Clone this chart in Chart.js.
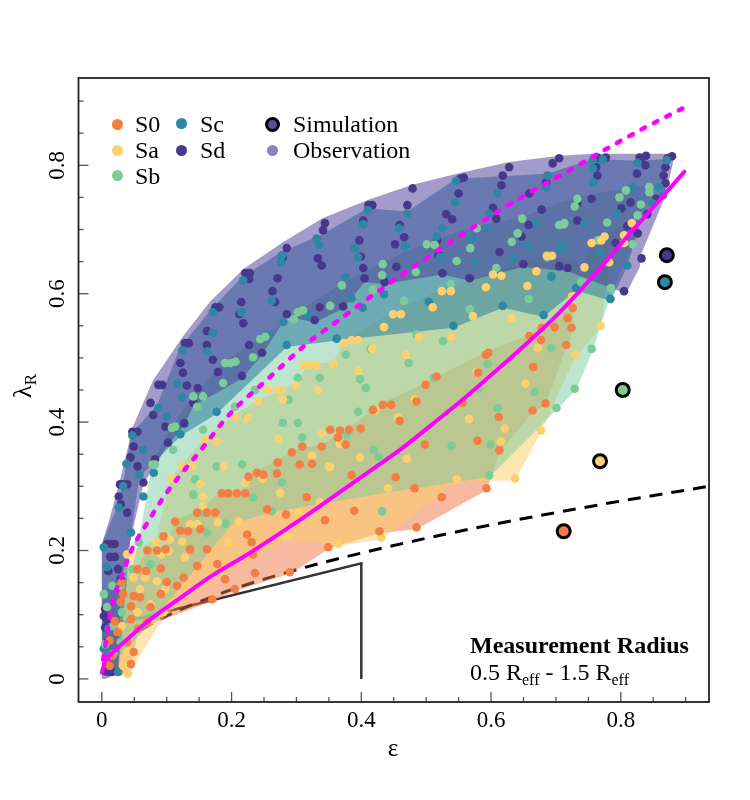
<!DOCTYPE html>
<html><head><meta charset="utf-8">
<script src="https://cdn.jsdelivr.net/npm/chart.js@4.4.1/dist/chart.umd.min.js"></script>
<style>
html,body{margin:0;padding:0;background:#fff;}
#wrap{position:relative;width:750px;height:800px;font-family:"Liberation Serif","Times New Roman",serif;color:#000;overflow:hidden;}
#c{position:absolute;left:0;top:0;}
.t{position:absolute;font-size:24px;line-height:26px;white-space:nowrap;}
.dot{position:absolute;width:11px;height:11px;border-radius:50%;}
.sim{position:absolute;width:9px;height:9px;border-radius:50%;border:3px solid #000;}
sub{font-size:16px;vertical-align:baseline;position:relative;top:5px;}
</style></head>
<body><div id="wrap"><canvas id="c" width="750" height="800"></canvas>
<div class="dot" style="left:111.5px;top:118.5px;background:#F57E45"></div><div class="t" style="left:135px;top:111px">S0</div>
<div class="dot" style="left:111.5px;top:144.5px;background:#FDD170"></div><div class="t" style="left:135px;top:137px">Sa</div>
<div class="dot" style="left:111.5px;top:170px;background:#7CCC98"></div><div class="t" style="left:135px;top:162.5px">Sb</div>
<div class="dot" style="left:175.5px;top:118px;background:#2E87A4"></div><div class="t" style="left:200px;top:111px">Sc</div>
<div class="dot" style="left:175.5px;top:144.5px;background:#46388B"></div><div class="t" style="left:200px;top:137px">Sd</div>
<div class="sim" style="left:265px;top:116.5px;background:#5B4DA0"></div><div class="t" style="left:293px;top:111px">Simulation</div>
<div class="dot" style="left:267px;top:144.5px;background:#8B80C0"></div><div class="t" style="left:293px;top:137px">Observation</div>
<div class="t" style="left:470px;top:632px;font-weight:bold">Measurement Radius</div>
<div class="t" style="left:470px;top:659px">0.5 R<sub>eff</sub> - 1.5 R<sub>eff</sub></div>
<div class="t" style="left:363px;top:735px;width:60px;text-align:center;font-size:25px">ε</div>
<div class="t" style="left:-7px;top:371px;width:60px;height:30px;line-height:30px;text-align:center;font-size:26px;transform:rotate(-90deg)">λ<sub style="font-size:17px;top:5px">R</sub></div>
</div>
<script>
// ---------- data ----------
const xTickValues = [0, 0.2, 0.4, 0.6, 0.8];
const xTickLabels = ['0', '0.2', '0.4', '0.6', '0.8'];
const yTickValues = [0, 0.2, 0.4, 0.6, 0.8];
const yTickLabels = ['0', '0.2', '0.4', '0.6', '0.8'];
const minorTickValues = [0,0.05,0.1,0.15,0.2,0.25,0.3,0.35,0.4,0.45,0.5,0.55,0.6,0.65,0.7,0.75,0.8,0.85,0.9];
const axisMin = -0.036, axisMax = 0.936;

const pointsS0 = [[0.659,0.534],[0.678,0.547],[0.677,0.528],[0.724,0.547],[0.726,0.578],[0.718,0.562],[0.716,0.52],[0.698,0.548],[0.592,0.505],[0.596,0.508],[0.665,0.486],[0.499,0.458],[0.516,0.471],[0.58,0.477],[0.433,0.427],[0.446,0.427],[0.418,0.419],[0.485,0.432],[0.459,0.402],[0.684,0.429],[0.664,0.418],[0.612,0.408],[0.556,0.43],[0.579,0.371],[0.613,0.356],[0.498,0.365],[0.399,0.39],[0.381,0.388],[0.376,0.365],[0.367,0.387],[0.385,0.317],[0.453,0.314],[0.482,0.297],[0.524,0.283],[0.593,0.297],[0.389,0.262],[0.428,0.23],[0.485,0.236],[0.352,0.388],[0.339,0.362],[0.309,0.362],[0.293,0.353],[0.324,0.335],[0.305,0.334],[0.271,0.337],[0.239,0.321],[0.249,0.318],[0.27,0.32],[0.226,0.315],[0.364,0.376],[0.185,0.289],[0.195,0.289],[0.208,0.289],[0.221,0.289],[0.147,0.259],[0.162,0.259],[0.175,0.259],[0.121,0.231],[0.133,0.23],[0.095,0.222],[0.07,0.2],[0.085,0.2],[0.055,0.171],[0.068,0.168],[0.091,0.172],[0.033,0.132],[0.049,0.129],[0.059,0.127],[0.045,0.113],[0.029,0.12],[0.045,0.093],[0.056,0.078],[0.075,0.112],[0.091,0.132],[0.116,0.145],[0.126,0.158],[0.147,0.176],[0.162,0.202],[0.136,0.202],[0.098,0.202],[0.19,0.155],[0.17,0.124],[0.236,0.165],[0.178,0.179],[0.233,0.194],[0.255,0.264],[0.224,0.225],[0.231,0.213],[0.316,0.283],[0.344,0.247],[0.349,0.205],[0.29,0.166],[0.205,0.14],[0.284,0.256],[0.113,0.245],[0.152,0.233],[0.1,0.151],[0.024,0.073],[0.039,0.057],[0.016,0.036],[0.049,0.042],[0.045,0.023],[0.07,0.088],[0.012,0.02],[0.02,0.09],[0.03,0.15],[0.012,0.06]];

const pointsSa = [[0.656,0.612],[0.592,0.61],[0.524,0.604],[0.538,0.604],[0.449,0.568],[0.461,0.568],[0.51,0.579],[0.572,0.565],[0.632,0.562],[0.725,0.596],[0.769,0.55],[0.435,0.548],[0.539,0.533],[0.489,0.533],[0.373,0.523],[0.385,0.528],[0.395,0.528],[0.469,0.505],[0.672,0.516],[0.73,0.505],[0.395,0.48],[0.578,0.478],[0.653,0.46],[0.482,0.435],[0.422,0.418],[0.456,0.407],[0.566,0.405],[0.621,0.39],[0.615,0.37],[0.677,0.387],[0.398,0.345],[0.47,0.343],[0.441,0.297],[0.547,0.311],[0.637,0.312],[0.431,0.22],[0.367,0.366],[0.694,0.659],[0.686,0.659],[0.603,0.63],[0.616,0.628],[0.67,0.635],[0.417,0.514],[0.357,0.49],[0.352,0.33],[0.31,0.489],[0.32,0.489],[0.331,0.489],[0.256,0.45],[0.27,0.45],[0.277,0.45],[0.241,0.432],[0.279,0.435],[0.299,0.457],[0.333,0.45],[0.205,0.408],[0.225,0.407],[0.272,0.374],[0.159,0.373],[0.177,0.37],[0.124,0.331],[0.139,0.331],[0.188,0.331],[0.339,0.382],[0.35,0.331],[0.221,0.306],[0.248,0.312],[0.324,0.348],[0.152,0.304],[0.107,0.312],[0.275,0.29],[0.156,0.284],[0.156,0.269],[0.136,0.241],[0.147,0.241],[0.179,0.244],[0.211,0.245],[0.195,0.214],[0.124,0.214],[0.083,0.213],[0.105,0.217],[0.103,0.199],[0.128,0.189],[0.039,0.194],[0.091,0.194],[0.067,0.158],[0.049,0.158],[0.085,0.152],[0.059,0.14],[0.098,0.14],[0.075,0.116],[0.055,0.104],[0.095,0.104],[0.071,0.088],[0.031,0.082],[0.039,0.042],[0.033,0.02],[0.04,0.008],[0.303,0.259],[0.282,0.222],[0.287,0.222],[0.336,0.275],[0.364,0.21],[0.775,0.689],[0.77,0.683],[0.755,0.679],[0.817,0.71],[0.805,0.691],[0.805,0.679],[0.782,0.649],[0.744,0.641]];

const pointsSb = [[0.466,0.589],[0.567,0.576],[0.658,0.592],[0.739,0.618],[0.485,0.537],[0.526,0.526],[0.693,0.515],[0.755,0.514],[0.414,0.514],[0.376,0.505],[0.473,0.492],[0.595,0.491],[0.398,0.467],[0.407,0.453],[0.512,0.469],[0.729,0.452],[0.667,0.447],[0.581,0.452],[0.61,0.422],[0.701,0.422],[0.395,0.416],[0.378,0.38],[0.419,0.357],[0.427,0.346],[0.539,0.363],[0.599,0.365],[0.597,0.317],[0.432,0.261],[0.37,0.613],[0.432,0.629],[0.433,0.646],[0.418,0.606],[0.501,0.677],[0.513,0.676],[0.484,0.634],[0.547,0.651],[0.568,0.671],[0.608,0.64],[0.578,0.702],[0.632,0.681],[0.641,0.694],[0.648,0.717],[0.705,0.707],[0.713,0.71],[0.687,0.657],[0.538,0.615],[0.352,0.581],[0.302,0.571],[0.31,0.574],[0.296,0.56],[0.244,0.529],[0.252,0.533],[0.233,0.501],[0.198,0.492],[0.19,0.492],[0.206,0.494],[0.187,0.461],[0.156,0.44],[0.141,0.44],[0.147,0.424],[0.113,0.393],[0.108,0.391],[0.078,0.334],[0.082,0.334],[0.11,0.357],[0.205,0.424],[0.224,0.408],[0.236,0.45],[0.288,0.435],[0.302,0.469],[0.336,0.469],[0.279,0.399],[0.302,0.399],[0.216,0.334],[0.177,0.331],[0.156,0.388],[0.144,0.311],[0.309,0.376],[0.278,0.306],[0.127,0.328],[0.141,0.287],[0.233,0.283],[0.156,0.259],[0.19,0.242],[0.162,0.228],[0.057,0.213],[0.075,0.179],[0.047,0.171],[0.003,0.132],[0.016,0.145],[0.029,0.145],[0.008,0.112],[0.018,0.082],[0.005,0.054],[0.018,0.039],[0.029,0.057],[0.262,0.261],[0.082,0.098],[0.052,0.098],[0.031,0.104],[0.798,0.75],[0.808,0.761],[0.844,0.766],[0.844,0.758],[0.831,0.739],[0.779,0.711],[0.826,0.722],[0.818,0.677],[0.765,0.683],[0.729,0.736],[0.733,0.748],[0.712,0.708],[0.785,0.609],[0.741,0.618]];

const pointsSc = [[0.504,0.587],[0.542,0.55],[0.618,0.581],[0.681,0.567],[0.731,0.609],[0.784,0.592],[0.435,0.599],[0.402,0.578],[0.385,0.593],[0.41,0.73],[0.403,0.708],[0.39,0.671],[0.395,0.657],[0.375,0.626],[0.362,0.53],[0.471,0.725],[0.458,0.702],[0.467,0.674],[0.516,0.689],[0.525,0.702],[0.521,0.657],[0.488,0.642],[0.545,0.742],[0.546,0.776],[0.61,0.756],[0.597,0.725],[0.595,0.702],[0.57,0.686],[0.576,0.649],[0.634,0.655],[0.658,0.674],[0.67,0.711],[0.687,0.784],[0.685,0.766],[0.712,0.674],[0.693,0.627],[0.278,0.66],[0.276,0.649],[0.28,0.556],[0.262,0.589],[0.218,0.621],[0.215,0.571],[0.171,0.571],[0.171,0.539],[0.162,0.51],[0.124,0.512],[0.116,0.46],[0.124,0.439],[0.087,0.422],[0.1,0.409],[0.121,0.381],[0.047,0.379],[0.064,0.357],[0.038,0.335],[0.058,0.318],[0.08,0.321],[0.255,0.536],[0.285,0.52],[0.317,0.567],[0.331,0.686],[0.335,0.676],[0.177,0.416],[0.003,0.205],[0.008,0.174],[0.018,0.143],[0.024,0.117],[0.01,0.078],[0.003,0.047],[0.025,0.011],[0.045,0.228],[0.064,0.284],[0.026,0.267],[0.033,0.3],[0.757,0.808],[0.772,0.809],[0.757,0.795],[0.757,0.773],[0.826,0.804],[0.871,0.808],[0.859,0.766],[0.849,0.741],[0.865,0.753],[0.818,0.766],[0.831,0.719],[0.795,0.725],[0.767,0.663],[0.744,0.71],[0.705,0.673],[0.81,0.644]];

const pointsSd = [[0.411,0.738],[0.417,0.738],[0.403,0.714],[0.397,0.683],[0.399,0.658],[0.403,0.64],[0.405,0.624],[0.372,0.58],[0.479,0.764],[0.471,0.738],[0.459,0.707],[0.466,0.688],[0.452,0.677],[0.454,0.642],[0.436,0.618],[0.552,0.779],[0.558,0.781],[0.55,0.756],[0.531,0.724],[0.54,0.716],[0.517,0.683],[0.519,0.66],[0.525,0.632],[0.567,0.624],[0.628,0.797],[0.618,0.784],[0.616,0.769],[0.603,0.734],[0.608,0.717],[0.613,0.665],[0.65,0.646],[0.695,0.803],[0.685,0.773],[0.659,0.756],[0.678,0.731],[0.658,0.707],[0.647,0.689],[0.705,0.643],[0.718,0.64],[0.733,0.741],[0.733,0.714],[0.805,0.604],[0.344,0.71],[0.341,0.699],[0.333,0.655],[0.339,0.644],[0.336,0.579],[0.328,0.559],[0.285,0.671],[0.279,0.657],[0.271,0.624],[0.263,0.604],[0.267,0.587],[0.285,0.568],[0.247,0.508],[0.216,0.472],[0.221,0.632],[0.228,0.632],[0.227,0.623],[0.215,0.587],[0.212,0.568],[0.218,0.554],[0.227,0.52],[0.175,0.579],[0.181,0.579],[0.162,0.542],[0.162,0.52],[0.171,0.497],[0.179,0.478],[0.148,0.453],[0.141,0.43],[0.128,0.523],[0.134,0.523],[0.121,0.492],[0.125,0.477],[0.131,0.457],[0.127,0.398],[0.087,0.458],[0.093,0.458],[0.075,0.43],[0.079,0.411],[0.098,0.393],[0.102,0.368],[0.047,0.385],[0.055,0.385],[0.049,0.362],[0.044,0.345],[0.055,0.331],[0.064,0.306],[0.082,0.342],[0.028,0.303],[0.032,0.303],[0.039,0.303],[0.026,0.284],[0.029,0.272],[0.039,0.259],[0.008,0.21],[0.016,0.21],[0.02,0.21],[0.013,0.19],[0.02,0.19],[0.01,0.168],[0.025,0.171],[0.029,0.155],[0.005,0.109],[0.003,0.098],[0.008,0.093],[0.005,0.08],[0.01,0.06],[0.005,0.012],[0.016,0.011],[0.025,0.011],[0.01,0.011],[0.705,0.811],[0.764,0.812],[0.777,0.812],[0.762,0.797],[0.764,0.784],[0.829,0.812],[0.839,0.815],[0.831,0.807],[0.838,0.8],[0.825,0.787],[0.879,0.814],[0.872,0.811],[0.869,0.797],[0.866,0.784],[0.869,0.772],[0.755,0.748],[0.801,0.733],[0.815,0.742],[0.855,0.748],[0.841,0.724],[0.81,0.705],[0.792,0.679],[0.826,0.694],[0.832,0.655]];

// region outlines of each type (observed spread)
const hullS0 = [[0.008,0.005],[0.01,0.02],[0.012,0.06],[0.02,0.09],[0.029,0.123],[0.03,0.15],[0.055,0.174],[0.07,0.203],[0.098,0.205],[0.113,0.248],[0.147,0.262],[0.185,0.292],[0.221,0.292],[0.226,0.318],[0.27,0.34],[0.293,0.356],[0.339,0.365],[0.364,0.379],[0.433,0.43],[0.499,0.461],[0.596,0.511],[0.659,0.537],[0.726,0.581],[0.727,0.545],[0.716,0.517],[0.684,0.426],[0.664,0.415],[0.613,0.353],[0.593,0.294],[0.485,0.233],[0.428,0.227],[0.352,0.204],[0.293,0.165],[0.205,0.137],[0.17,0.121],[0.075,0.085],[0.056,0.075],[0.045,0.02],[0.03,0.005],[0.008,0.005]];
const hullSa = [[0.005,0.005],[0.0,0.1],[0.039,0.197],[0.083,0.216],[0.107,0.315],[0.124,0.334],[0.159,0.376],[0.205,0.411],[0.241,0.435],[0.299,0.46],[0.32,0.492],[0.357,0.493],[0.373,0.526],[0.449,0.571],[0.524,0.607],[0.603,0.633],[0.694,0.662],[0.744,0.644],[0.755,0.682],[0.775,0.692],[0.817,0.713],[0.805,0.676],[0.782,0.646],[0.769,0.547],[0.73,0.502],[0.677,0.384],[0.637,0.309],[0.547,0.308],[0.431,0.217],[0.364,0.207],[0.287,0.219],[0.2,0.17],[0.098,0.1],[0.04,0.005],[0.005,0.005]];
const hullSb = [[0.0,0.05],[0.0,0.132],[0.016,0.148],[0.047,0.174],[0.057,0.216],[0.078,0.337],[0.108,0.394],[0.141,0.443],[0.19,0.495],[0.244,0.532],[0.296,0.563],[0.31,0.577],[0.37,0.616],[0.433,0.649],[0.501,0.68],[0.578,0.705],[0.648,0.72],[0.733,0.751],[0.808,0.764],[0.844,0.769],[0.847,0.756],[0.828,0.72],[0.82,0.675],[0.787,0.607],[0.757,0.512],[0.731,0.45],[0.702,0.42],[0.598,0.315],[0.439,0.29],[0.254,0.258],[0.2,0.24],[0.082,0.095],[0.03,0.037],[0.005,0.05],[0.0,0.05]];
const hullSc = [[0.0,0.04],[0.0,0.21],[0.024,0.27],[0.033,0.305],[0.045,0.382],[0.085,0.426],[0.12,0.515],[0.168,0.575],[0.215,0.625],[0.276,0.665],[0.335,0.69],[0.41,0.733],[0.471,0.728],[0.546,0.779],[0.687,0.787],[0.757,0.81],[0.826,0.807],[0.871,0.81],[0.868,0.755],[0.849,0.738],[0.831,0.716],[0.81,0.642],[0.784,0.589],[0.731,0.605],[0.681,0.564],[0.618,0.578],[0.542,0.547],[0.362,0.527],[0.285,0.517],[0.177,0.413],[0.121,0.378],[0.058,0.315],[0.045,0.225],[0.025,0.008],[0.003,0.04],[0.0,0.04]];
const hullSd = [[0.0,0.0],[0.0,0.21],[0.012,0.25],[0.028,0.31],[0.048,0.393],[0.079,0.465],[0.126,0.535],[0.167,0.588],[0.218,0.638],[0.279,0.68],[0.341,0.718],[0.413,0.747],[0.48,0.77],[0.552,0.788],[0.628,0.805],[0.705,0.815],[0.757,0.818],[0.879,0.818],[0.882,0.81],[0.875,0.78],[0.87,0.755],[0.832,0.663],[0.829,0.641],[0.808,0.6],[0.718,0.635],[0.65,0.642],[0.567,0.62],[0.525,0.63],[0.436,0.615],[0.405,0.618],[0.372,0.577],[0.328,0.555],[0.285,0.565],[0.247,0.505],[0.216,0.468],[0.141,0.425],[0.127,0.395],[0.102,0.365],[0.064,0.303],[0.029,0.15],[0.025,0.008],[0.005,0.0],[0.0,0.0]];

const simulationTypes = ['S0','Sa','Sb','Sc','Sd'];
const simulationPoints = [[0.712,0.23],[0.768,0.339],[0.803,0.45],[0.868,0.618],[0.871,0.66]];

const magentaSolid = [[0.0,0.01],[0.005,0.027],[0.018,0.042],[0.045,0.067],[0.075,0.093],[0.122,0.127],[0.167,0.159],[0.228,0.196],[0.306,0.248],[0.357,0.284],[0.408,0.32],[0.46,0.357],[0.511,0.398],[0.562,0.44],[0.61,0.482],[0.649,0.517],[0.70,0.565],[0.757,0.627],[0.809,0.688],[0.86,0.746],[0.898,0.79]];
const magentaDotted = [[0.002,0.03],[0.011,0.088],[0.019,0.129],[0.029,0.155],[0.045,0.199],[0.07,0.243],[0.1,0.29],[0.157,0.362],[0.194,0.409],[0.26,0.471],[0.317,0.523],[0.36,0.555],[0.414,0.595],[0.495,0.652],[0.578,0.707],[0.645,0.749],[0.71,0.786],[0.768,0.82],[0.834,0.857],[0.898,0.89]];
const blackDashed = [[0.01,0.031],[0.03,0.054],[0.06,0.076],[0.1,0.098],[0.15,0.12],[0.2,0.139],[0.3,0.17],[0.4,0.196],[0.5,0.219],[0.6,0.24],[0.7,0.259],[0.8,0.277],[0.936,0.3]];
const blackSolid = [[0,0.08],[0.4,0.18],[0.4,0]];

// ---------- styles ----------
const pointColor = {S0:'#F57E45', Sa:'#FDD170', Sb:'#7CCC98', Sc:'#2E87A4', Sd:'#46388B'};
const hullColor = {S0:'rgba(240,115,65,0.5)', Sa:'rgba(251,205,100,0.5)', Sb:'rgba(123,203,160,0.5)', Sc:'rgba(30,115,155,0.5)', Sd:'rgba(72,58,150,0.5)'};

const xy = a => a.map(p => ({x:p[0], y:p[1]}));

function hullDs(data, color, order){
  return {type:'line', data:xy(data), backgroundColor:color, borderWidth:0, borderColor:'rgba(0,0,0,0)',
    fill:'shape', pointRadius:0, pointHoverRadius:0, tension:0, order:order};
}
function pointsDs(data, color, order){
  return {type:'scatter', data:xy(data), backgroundColor:color, borderWidth:0, pointRadius:4.3, pointHoverRadius:4.3, order:order};
}
function lineDs(data, color, width, dash, order, cap, smooth){
  return {type:'line', data:xy(data), borderColor:color, borderWidth:width, borderDash:dash, borderCapStyle:cap||'butt',
    fill:false, pointRadius:0, pointHoverRadius:0, tension:0, cubicInterpolationMode: smooth ? 'monotone' : 'default', order:order};
}

const datasets = [
  lineDs(blackSolid, '#333333', 2.5, [], 31),
  lineDs(blackDashed, '#000000', 3, [13,9], 30, 'butt', true),
  hullDs(hullS0, hullColor.S0, 25),
  hullDs(hullSa, hullColor.Sa, 24),
  hullDs(hullSb, hullColor.Sb, 23),
  hullDs(hullSc, hullColor.Sc, 22),
  hullDs(hullSd, hullColor.Sd, 21),
  pointsDs(pointsSd, pointColor.Sd, 15),
  pointsDs(pointsSc, pointColor.Sc, 14),
  pointsDs(pointsSb, pointColor.Sb, 13),
  pointsDs(pointsSa, pointColor.Sa, 12),
  pointsDs(pointsS0, pointColor.S0, 11),
  lineDs(magentaDotted, '#FF00FF', 4.5, [4,10], 4, 'round', true),
  lineDs(magentaSolid, '#FF00FF', 4, [], 3, 'round', true),
  {type:'scatter', data:xy(simulationPoints), backgroundColor:simulationTypes.map(t=>pointColor[t]),
    borderColor:'#000', borderWidth:3, pointRadius:6.5, pointHoverRadius:6.5, order:1}
];

const frame = {
  id:'frame',
  afterDraw(chart){
    const {ctx, chartArea:a, scales:{x, y}} = chart;
    ctx.save();
    ctx.strokeStyle = '#555'; ctx.lineWidth = 1.3;
    minorTickValues.forEach(v => {
      const major = xTickValues.includes(v);
      const L = major ? 10 : 5;
      const px = x.getPixelForValue(v);
      ctx.beginPath(); ctx.moveTo(px, a.bottom); ctx.lineTo(px, a.bottom - L); ctx.stroke();
      const py = y.getPixelForValue(v);
      ctx.beginPath(); ctx.moveTo(a.left, py); ctx.lineTo(a.left + L, py); ctx.stroke();
    });
    ctx.strokeStyle = '#222'; ctx.lineWidth = 1.8;
    ctx.strokeRect(a.left, a.top, a.right - a.left, a.bottom - a.top);
    ctx.restore();
  }
};

const tickFont = {family:'"Liberation Serif","Times New Roman",serif', size:23};

new Chart(document.getElementById('c'), {
  type:'scatter',
  data:{datasets},
  options:{
    responsive:false, animation:false, events:[],
    layout:{padding:{top:78, right:41, left:0, bottom:0}},
    plugins:{legend:{display:false}, tooltip:{enabled:false}},
    scales:{
      x:{type:'linear', min:axisMin, max:axisMax,
        grid:{display:false, drawTicks:false}, border:{display:false},
        ticks:{font:tickFont, color:'#000', padding:5, callback:(v)=>{const i=xTickValues.indexOf(v);return i>=0?xTickLabels[i]:'';}},
        afterBuildTicks:s=>{s.ticks = xTickValues.map(v=>({value:v}));},
        afterFit:s=>{s.height = 98;}},
      y:{type:'linear', min:axisMin, max:axisMax,
        grid:{display:false, drawTicks:false}, border:{display:false},
        ticks:{font:tickFont, color:'#000', padding:6.6, minRotation:90, maxRotation:90, crossAlign:'center',
          callback:(v)=>{const i=yTickValues.indexOf(v);return i>=0?yTickLabels[i]:'';}},
        afterBuildTicks:s=>{s.ticks = yTickValues.map(v=>({value:v}));},
        afterFit:s=>{s.width = 78.5;}}
    }
  },
  plugins:[frame]
});
</script>
</body></html>
